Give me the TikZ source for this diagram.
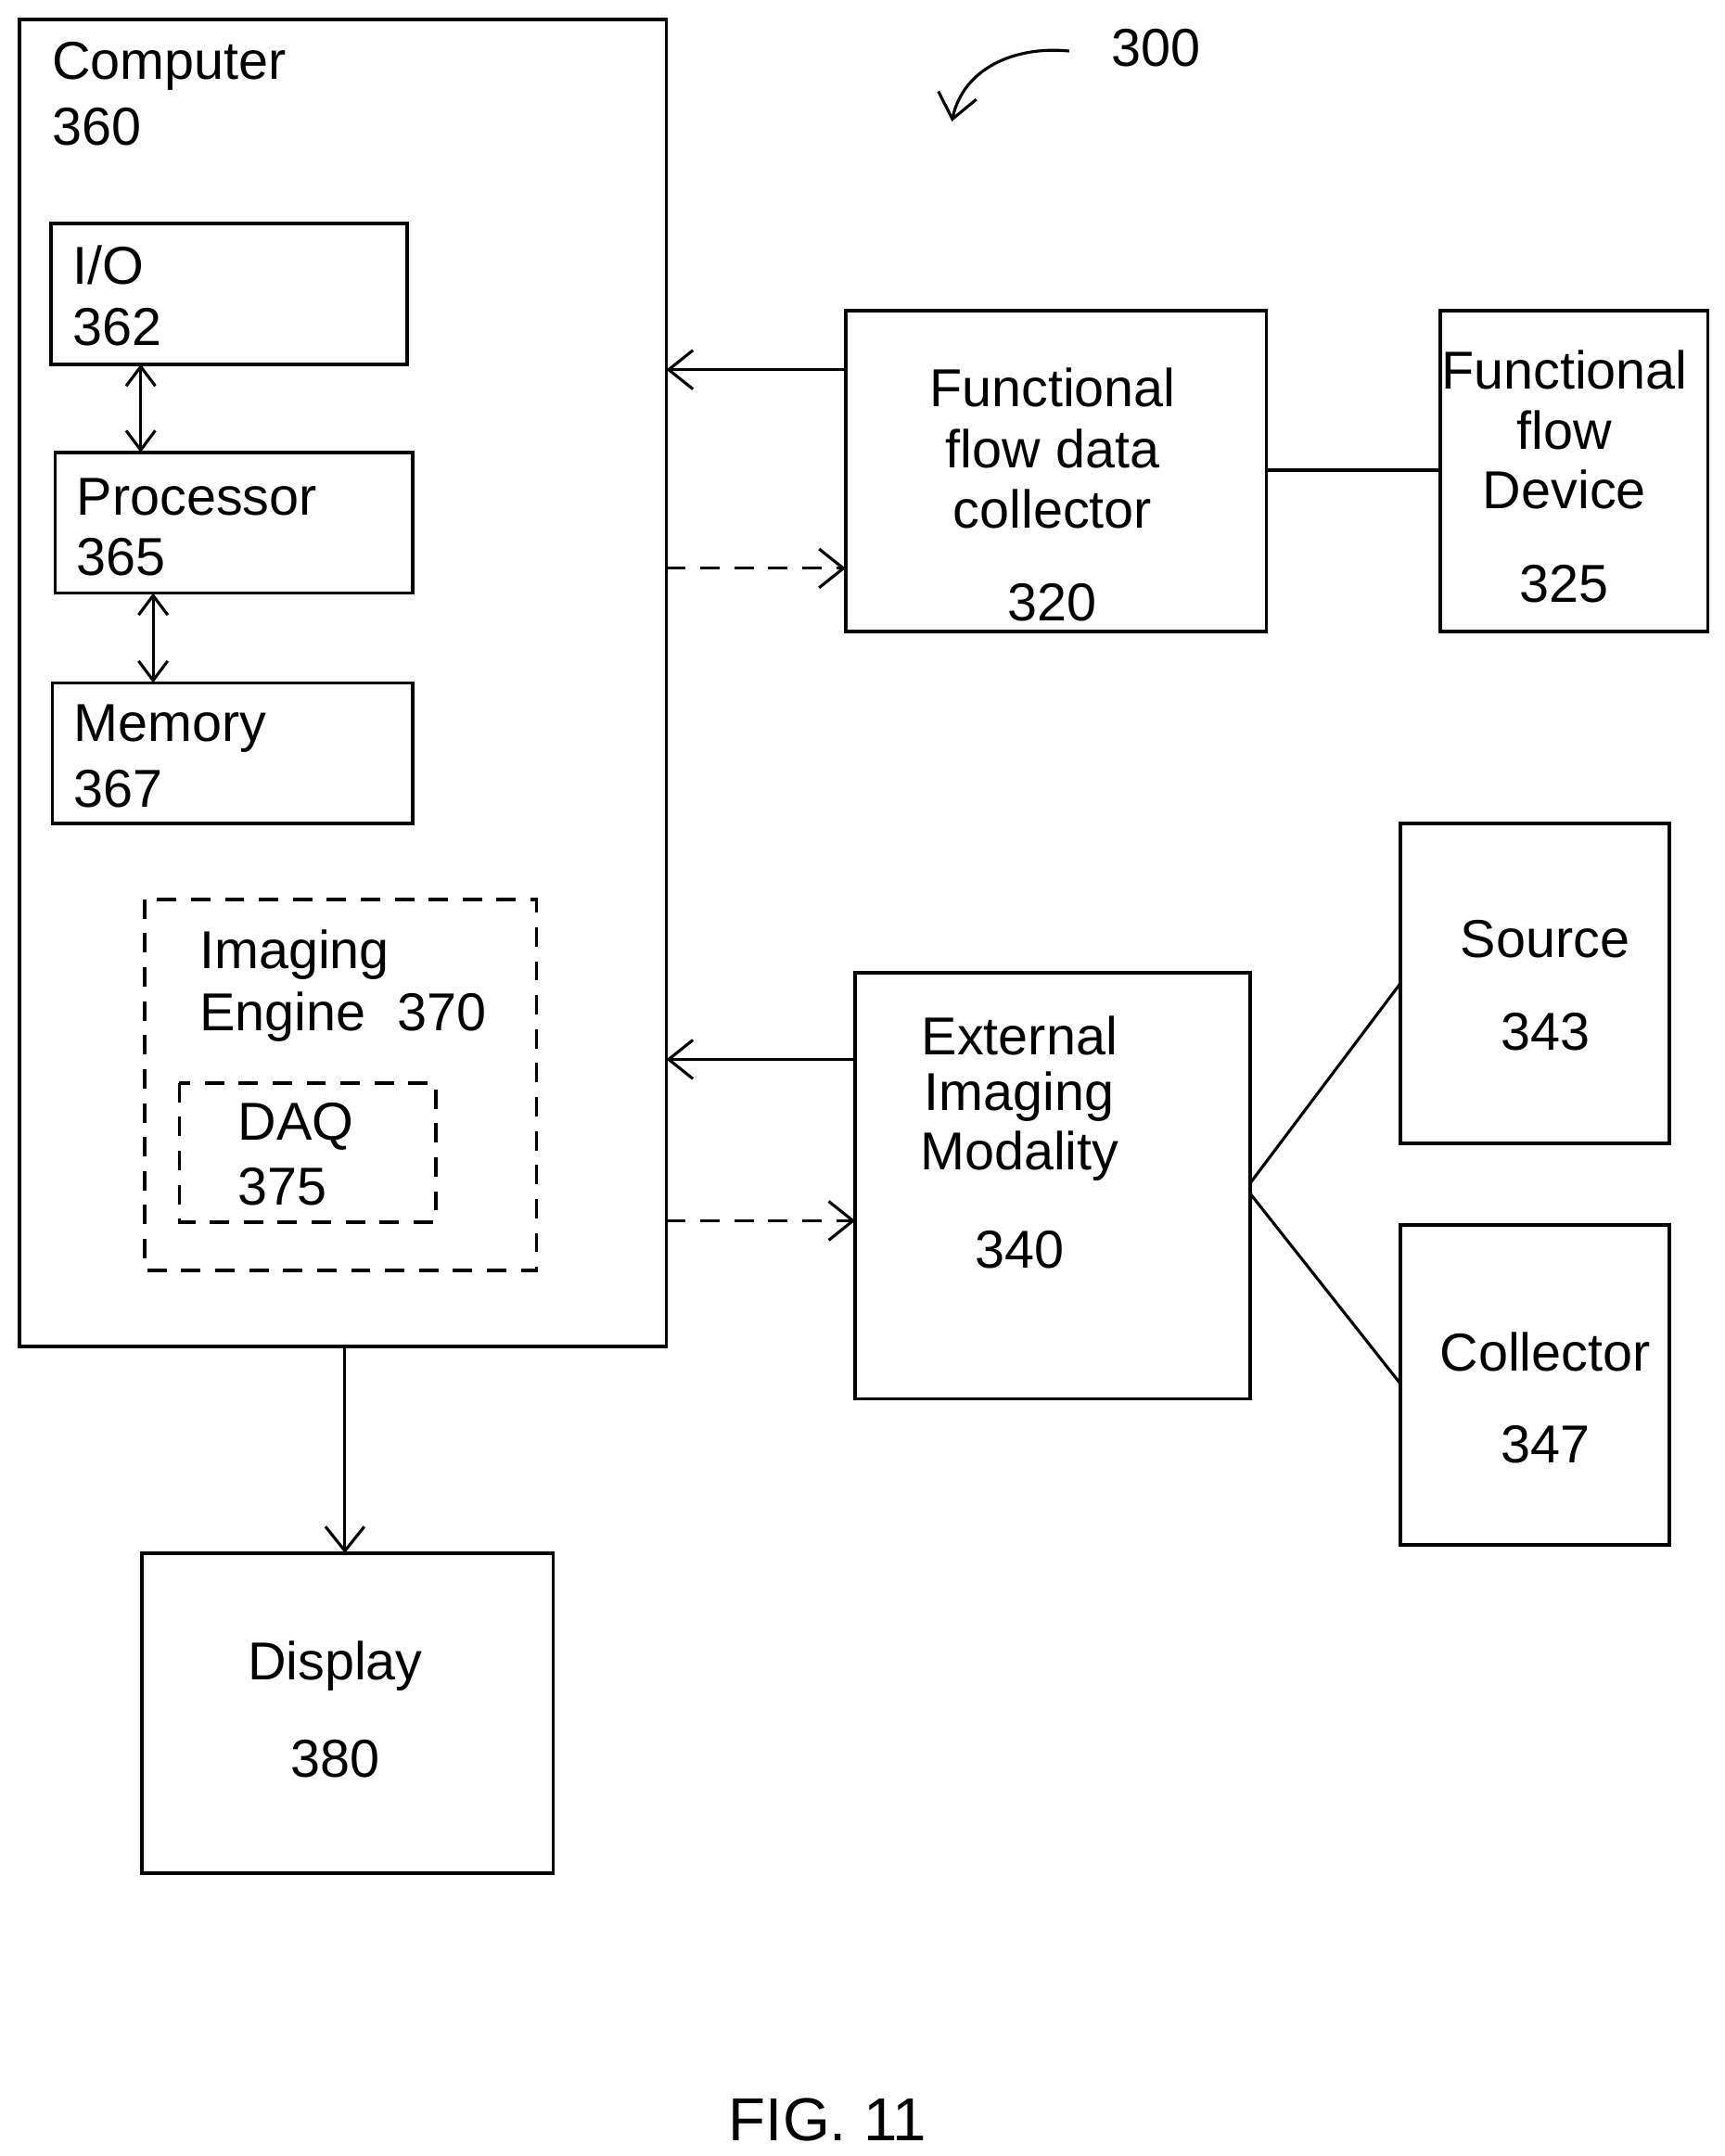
\documentclass[tikz,border=0pt]{standalone}
\usepackage{fontspec}
\setmainfont{Liberation Sans}
\usetikzlibrary{arrows.meta}
\begin{document}
\begin{tikzpicture}[x=0.01cm,y=-0.01cm,
  box/.style={draw,line width=0.7pt},
  dbox/.style={draw,line width=0.7pt,dash pattern=on 4pt off 3pt},
  lbl/.style={font=\fontsize{11}{13}\selectfont,inner sep=0pt},
  ar/.style={line width=0.6pt,-{Straight Barb[length=5pt,width=8pt]}},
  dar/.style={ar,dash pattern=on 4pt off 3pt},
  dbl/.style={line width=0.6pt,{Straight Barb[length=4pt,width=6pt]}-{Straight Barb[length=4pt,width=6pt]}}]
\useasboundingbox (0,0) rectangle (1250,1563);
% boxes
\draw[box] (14,14) rectangle (483,976);
\coordinate (compR1) at (483,268); \coordinate (compR2) at (483,412);
\coordinate (compR3) at (483,768); \coordinate (compR4) at (483,885);
\coordinate (compB) at (250,976);
\node[lbl,anchor=west] (t360a) at (37,48) {Computer};
\node[lbl,anchor=west] (t360b) at (37,92) {360};
\draw[box] (37,162) rectangle (295,264);
\node[lbl,anchor=west] at (52,192) {I/O};
\node[lbl,anchor=west] at (52,237) {362};
\draw[box] (40,328) rectangle (299,430);
\node[lbl,anchor=west] at (55,360) {Processor};
\node[lbl,anchor=west] at (55,404) {365};
\draw[box] (38,495) rectangle (299,597);
\node[lbl,anchor=west] at (53,528) {Memory};
\node[lbl,anchor=west] at (53,572) {367};
\coordinate (io) at (102,264); \coordinate (pt) at (102,328);
\coordinate (pb) at (111,430); \coordinate (mt) at (111,495);
\draw[dbl] (io) -- (pt);
\draw[dbl] (pb) -- (mt);
\draw[dbox] (105,652) rectangle (389,921);
\node[lbl,anchor=west] at (144,692) {Imaging};
\node[lbl,anchor=west] at (144,737) {Engine\hspace{0.6em}370};
\draw[dbox] (130,785) rectangle (316,886);
\node[lbl,anchor=west] at (172,817) {DAQ};
\node[lbl,anchor=west] at (172,860) {375};
% FFDC
\draw[box] (613,225) rectangle (918,458);
\node[lbl,align=center] at (763,281) {Functional};
\node[lbl] at (763,325) {flow data};
\node[lbl] at (763,369) {collector};
\node[lbl] at (763,437) {320};
\coordinate (f1) at (613,268); \coordinate (f2) at (613,412);
\draw[box] (1044,225) rectangle (1238,458);
\node[lbl] at (1134,268) {Functional};
\node[lbl] at (1134,312) {flow};
\node[lbl] at (1134,355) {Device};
\node[lbl] at (1134,423) {325};
\coordinate (fr) at (918,341); \coordinate (dl) at (1044,341);
\draw[line width=0.7pt] (fr) -- (dl);
\draw[ar] (f1) -- (compR1);
\draw[dar] (compR2) -- (f2);
% EIM
\draw[box] (620,705) rectangle (906,1014);
\node[lbl] at (739,751) {External};
\node[lbl] at (739,795) {Imaging};
\node[lbl] at (739,838) {Modality};
\node[lbl] at (739,906) {340};
\coordinate (e1) at (620,768); \coordinate (e2) at (620,885);
\draw[ar] (e1) -- (compR3);
\draw[dar] (compR4) -- (e2);
\draw[box] (1015,597) rectangle (1210,829);
\node[lbl] at (1120,681) {Source};
\node[lbl] at (1120,748) {343};
\draw[box] (1015,888) rectangle (1210,1120);
\node[lbl] at (1120,980) {Collector};
\node[lbl] at (1120,1047) {347};
\coordinate (eA) at (906,858); \coordinate (sA) at (1015,713);
\coordinate (eB) at (906,865); \coordinate (cA) at (1015,1003);
\draw[line width=0.6pt] (eA) -- (sA);
\draw[line width=0.6pt] (eB) -- (cA);
% Display
\draw[box] (103,1126) rectangle (401,1358);
\coordinate (dT) at (250,1126);
\node[lbl] at (243,1208) {Display};
\node[lbl] at (243,1275) {380};
\draw[ar] (compB) -- (dT);
% 300
\node[lbl] (n300) at (838,35) {300};
\coordinate (c1) at (775,37); \coordinate (c2) at (690,88);
\draw[ar] (c1) .. controls (735,33) and (698,50) .. (c2);
\node[font=\fontsize{12.5}{15}\selectfont,inner sep=0pt] at (600,1537) {FIG. 11};
\end{tikzpicture}
\end{document}
